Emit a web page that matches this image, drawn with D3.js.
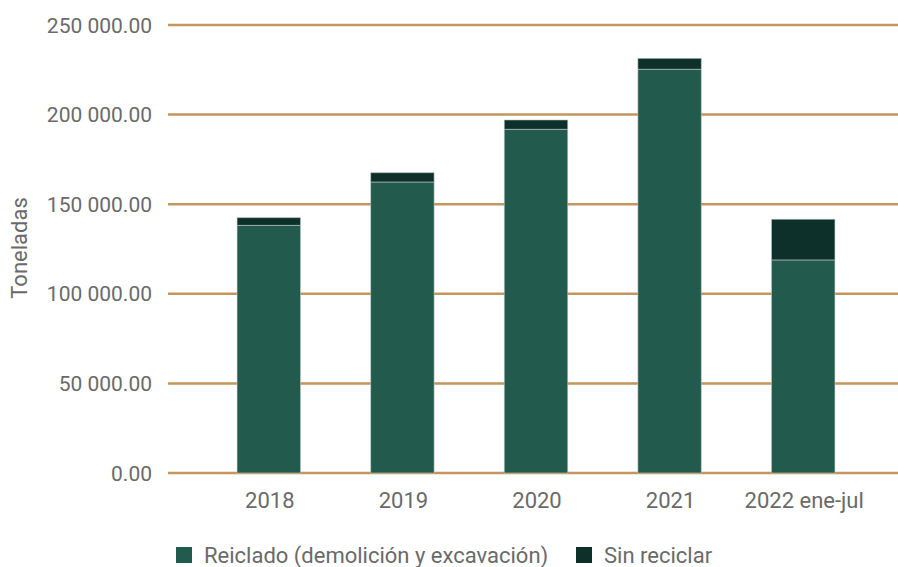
<!DOCTYPE html>
<html><head><meta charset="utf-8">
<script src="https://cdn.jsdelivr.net/npm/d3@7"></script>
<style>
body{margin:0;background:#fff;}
text{font-family:Roboto,"Noto Sans",sans-serif;fill:#6a6a6a;}
</style></head>
<body><svg id="c" width="898" height="567"></svg>
<script>
const categories = ["2018","2019","2020","2021","2022 ene-jul"];
const reciclado = [138200,162400,191800,225300,118900];
const sinReciclar = [4300,5200,5200,6100,22700];
const yTicks = [0,50000,100000,150000,200000,250000];
const seriesNames = ["Reiclado (demolición y excavación)","Sin reciclar"];
const colors = ["#235a4e","#0d302a"];

const svg = d3.select("#c");
const x = d3.scaleBand().domain(categories).range([202,870]).paddingInner(0.525).paddingOuter(0.2625);
const y = d3.scaleLinear().domain([0,250000]).range([473,25]);

const fmt = v => d3.format(",.2f")(v).replace(/,/g," ");

svg.append("g").selectAll("line").data(yTicks).join("line")
  .attr("x1",168).attr("x2",898)
  .attr("y1",d=>y(d)).attr("y2",d=>y(d))
  .attr("stroke","#c4955c").attr("stroke-width",2.5);

svg.append("g").selectAll("text").data(yTicks).join("text")
  .attr("x",152).attr("y",d=>y(d)).attr("dy","0.36em")
  .attr("text-anchor","end").attr("font-size",21).text(fmt);

const data = categories.map((c,i)=>({cat:c, r:reciclado[i], s:sinReciclar[i]}));
const stack = d3.stack().keys(["r","s"])(data);
svg.append("g").selectAll("g").data(stack).join("g")
  .attr("fill",(d,i)=>colors[i])
  .selectAll("rect").data(d=>d).join("rect")
  .attr("x",d=>x(d.data.cat)).attr("width",x.bandwidth())
  .attr("y",d=>y(d[1])).attr("height",d=>y(d[0])-y(d[1]))
  .attr("stroke","rgba(200,210,205,0.55)").attr("stroke-width",1);

svg.append("g").selectAll("text").data(categories).join("text")
  .attr("x",d=>x(d)+x.bandwidth()/2+1).attr("y",508)
  .attr("text-anchor","middle").attr("font-size",22).text(d=>d);

svg.append("text").attr("transform","translate(27,248) rotate(-90)")
  .attr("text-anchor","middle").attr("font-size",22).text("Toneladas");

const leg = [{x:176},{x:576}];
const lg = svg.append("g");
seriesNames.forEach((n,i)=>{
  lg.append("rect").attr("x",leg[i].x).attr("y",547).attr("width",16).attr("height",16).attr("fill",colors[i]);
  lg.append("text").attr("x",leg[i].x+28).attr("y",563).attr("font-size",22).text(n);
});
</script></body></html>
